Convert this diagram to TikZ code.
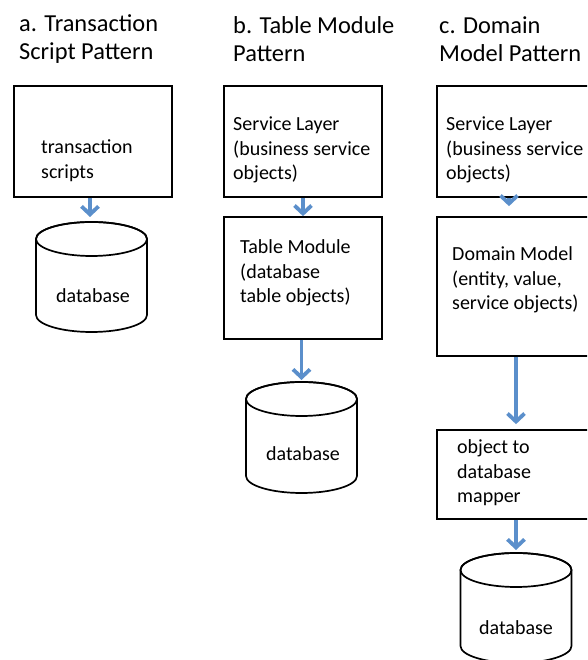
\documentclass[tikz,border=0pt]{standalone}
\usepackage{fontspec}
\setmainfont{Carlito}
\usetikzlibrary{arrows.meta,calc}
\definecolor{arrowblue}{RGB}{91,143,203}
\tikzset{
  x=1pt,y=1pt,
  boxnode/.style={draw=black,line width=1.7pt,minimum width=158pt,inner sep=0pt},
  bodytext/.style={inner sep=0pt,anchor=west,align=left,font=\fontsize{20pt}{24.5pt}\selectfont},
  titletext/.style={inner sep=0pt,anchor=west,align=left,font=\fontsize{24.4pt}{28pt}\selectfont},
  dbtext/.style={inner sep=0pt,font=\fontsize{20pt}{24.5pt}\selectfont},
  dbline/.style={draw=black,line width=1.7pt,fill=white},
  flow/.style={draw=arrowblue,line width=3.8pt,-{Straight Barb[length=8pt,width=17pt]}}
}
\begin{document}
\begin{tikzpicture}
\useasboundingbox (0,0) rectangle (587,660);
\clip (0,0) rectangle (587,660);
% titles
\node[titletext] (ta) at (19,620.5) {a. Transaction\\Script Pattern};
\node[titletext] (tb) at (233,620.5) {b. Table Module\\Pattern};
\node[titletext] (tc) at (439,620.5) {c. Domain\\Model Pattern};
% boxes
\node[boxnode,minimum height=111pt] (a1) at (93,518.5) {};
\node[boxnode,minimum height=111pt] (b1) at (303,518.5) {};
\node[boxnode,minimum height=122pt] (b2) at (303,382) {};
\node[boxnode,minimum height=111pt] (c1) at (516,518.5) {};
\node[boxnode,minimum height=139pt] (c2) at (516,373.5) {};
\node[boxnode,minimum height=89pt] (c3) at (516,185.5) {};
% box texts
\node[bodytext] (a1t) at (41,499.5) {transaction\\scripts};
\node[bodytext] (b1t) at (233,510) {Service Layer\\(business service\\objects)};
\node[bodytext] (b2t) at (240,387) {Table Module\\(database\\table objects)};
\node[bodytext] (c1t) at (446,510) {Service Layer\\(business service\\objects)};
\node[bodytext] (c2t) at (452,380) {Domain Model\\(entity, value,\\service objects)};
\node[bodytext] (c3t) at (457,187) {object to\\database\\mapper};
% cylinders
\foreach \cx/\ty/\by in {91.5/438/328, 301.5/278/167, 516/107/-3}{
  \path[dbline] (\cx-55.5,\ty-17) -- (\cx-55.5,\by+17)
     arc[start angle=180,end angle=360,x radius=55.5,y radius=17]
     -- (\cx+55.5,\ty-17)
     arc[start angle=0,end angle=180,x radius=55.5,y radius=17] -- cycle;
  \draw[dbline,fill=none] (\cx,\ty-17) ellipse[x radius=55.5,y radius=17];
}
\coordinate (dba) at (90,438);
\coordinate (dbb) at (301.5,278);
\coordinate (dbc) at (516,107);
\node[dbtext] (dbat) at (93,364) {database};
\node[dbtext] (dbbt) at (303,206) {database};
\node[dbtext] (dbct) at (516,32) {database};
% connectors
\draw[flow,shorten >=5pt] (a1.south -| dba) -- (dba);
\draw[flow] (b1.south) -- (b2.north);
\draw[flow,shorten >=2pt] (b2.south -| dbb) -- (dbb);
\draw[flow,shorten >=10pt] ([xshift=-7pt]c1.south) -- ([xshift=-7pt]c2.north);
\draw[flow,shorten >=5pt] (c2.south) -- (c3.north);
\draw[flow,shorten >=3pt] (c3.south) -- (dbc);
\end{tikzpicture}
\end{document}
